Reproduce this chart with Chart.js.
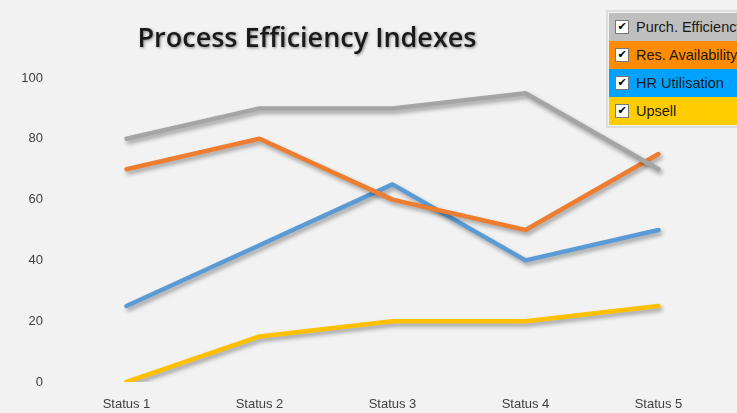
<!DOCTYPE html>
<html>
<head>
<meta charset="utf-8">
<script src="https://cdn.jsdelivr.net/npm/chart.js"></script>
<style>
  html, body { margin: 0; padding: 0; background: #f2f2f2; overflow: hidden; }
  #wrap { position: relative; width: 737px; height: 413px; }
  #legend {
    position: absolute; left: 606px; top: 10px; width: 160px;
    border: 2px solid #dcdcdc; border-right: none; background: #f2f2f2;
    padding: 1px 0 1px 1px;
    font-family: "Liberation Sans", Arial, sans-serif; font-size: 14.5px; color: #1a1a1a;
  }
  .row { height: 28px; display: flex; align-items: center; white-space: nowrap; }
  .box {
    width: 12px; height: 12px; background: #fff; border: 1px solid #777;
    margin: 0 7px 0 6px; font-size: 11px; line-height: 12px; text-align: center;
    font-weight: bold; color: #000; font-family: "DejaVu Sans", sans-serif;
  }
</style>
</head>
<body>
<div id="wrap">
  <canvas id="myChart"></canvas>
  <div id="legend"></div>
</div>
<script>
const categories = ['Status 1', 'Status 2', 'Status 3', 'Status 4', 'Status 5'];
const seriesNames = ['Purch. Efficiency', 'Res. Availability', 'HR Utilisation', 'Upsell'];
const purchEfficiency = [80, 90, 90, 95, 70];
const resAvailability = [70, 80, 60, 50, 75];
const hrUtilisation = [25, 45, 65, 40, 50];
const upsell = [0, 15, 20, 20, 25];
const yTicks = [0, 20, 40, 60, 80, 100];

const lineColors = ['#a5a5a5', '#ed7d31', '#5b9bd5', '#ffc000'];
const legendColors = ['#bfbfbf', '#ff8c00', '#00a2ff', '#ffcc00'];
const values = [purchEfficiency, resAvailability, hrUtilisation, upsell];

// legend made of html rows
const leg = document.getElementById('legend');
seriesNames.forEach((name, i) => {
  const r = document.createElement('div');
  r.className = 'row';
  r.style.background = legendColors[i];
  r.innerHTML = '<span class="box">✔</span><span>' + name + '</span>';
  leg.appendChild(r);
});

const shadowLines = {
  id: 'shadowLines',
  beforeDatasetDraw(chart) {
    const c = chart.ctx;
    c.save();
    c.shadowColor = 'rgba(0,0,0,0.35)';
    c.shadowBlur = 4;
    c.shadowOffsetX = 2;
    c.shadowOffsetY = 3;
  },
  afterDatasetDraw(chart) {
    chart.ctx.restore();
  }
};

const titleText = {
  id: 'titleText',
  afterDraw(chart) {
    const c = chart.ctx;
    c.save();
    c.font = '600 27px "Open Sans", "Liberation Sans", sans-serif';
    c.fillStyle = '#1a1a1a';
    c.textAlign = 'center';
    c.textBaseline = 'middle';
    c.shadowColor = 'rgba(0,0,0,0.45)';
    c.shadowBlur = 3;
    c.shadowOffsetX = 1;
    c.shadowOffsetY = 1;
    c.fillText('Process Efficiency Indexes', 307, 39);
    c.restore();
  }
};

const ctx = document.getElementById('myChart');

new Chart(ctx, {
  type: 'line',
  data: {
    labels: categories,
    datasets: seriesNames.map((n, i) => ({
      label: n,
      data: values[i],
      borderColor: lineColors[i],
      borderWidth: 4.5,
      borderCapStyle: 'round',
      borderJoinStyle: 'round',
      pointRadius: 0,
      tension: 0,
      fill: false,
    })),
  },
  options: {
    responsive: true,
    maintainAspectRatio: false,
    animation: false,
    events: [],
    layout: {
      padding: { left: 21, right: 12, top: 78, bottom: 1 }
    },
    plugins: {
      legend: false,
      title: false,
      tooltip: false,
    },
    scales: {
      x: {
        offset: true,
        grid: { display: false, drawTicks: false },
        border: { display: false },
        afterFit(axis) { axis.height = 30; },
        ticks: {
          color: '#404040',
          padding: 15,
          font: { family: '"Liberation Sans", Arial, sans-serif', size: 13 }
        }
      },
      y: {
        min: 0,
        max: 100,
        afterBuildTicks(axis) { axis.ticks = yTicks.map(v => ({ value: v })); },
        afterFit(axis) { axis.width = 39; },
        grid: { display: false, drawTicks: false },
        border: { display: false },
        ticks: {
          color: '#404040',
          padding: 17,
          font: { family: '"Liberation Sans", Arial, sans-serif', size: 13 }
        }
      }
    }
  },
  plugins: [shadowLines, titleText]
});
</script>
</body>
</html>
